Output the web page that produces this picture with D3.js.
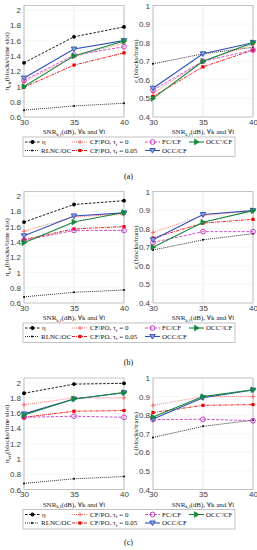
<!DOCTYPE html>
<html>
<head>
<meta charset="utf-8">
<style>
body { margin: 0; background: #fff; }
.tick text { font-family: "Liberation Sans", Arial, sans-serif; font-size: 8px; fill: #404040; }
.ttl { font-family: "Liberation Serif", "DejaVu Serif", serif; font-size: 7px; fill: #222; }
.leg { font-family: "Liberation Serif", "DejaVu Serif", serif; font-size: 7px; fill: #111; }
</style>
</head>
<body>
<script src="https://cdn.jsdelivr.net/npm/d3@7"></script>
<script>
// x values
var snr = [30, 35, 40];

// series order: eta, RLNC/OC, CF/PO tf=0, CF/PO tf=0.05, FC/CF, OCC/CF, OCC'/CF
var effA = [[1.31, 1.65, 1.78], [0.69, 0.745, 0.78], [1.06, 1.39, 1.57], [0.99, 1.28, 1.44], [1.08, 1.41, 1.52], [1.11, 1.49, 1.60], [1.00, 1.40, 1.595]];
var effB = [[1.66, 1.89, 1.94], [0.68, 0.74, 0.77], [1.54, 1.73, 1.76], [1.43, 1.57, 1.60], [1.42, 1.55, 1.55], [1.48, 1.74, 1.78], [1.39, 1.66, 1.785]];
var effC = [[1.86, 1.98, 1.99], [0.68, 0.74, 0.77], [1.71, 1.80, 1.80], [1.545, 1.625, 1.634], [1.545, 1.56, 1.545], [1.59, 1.786, 1.866], [1.576, 1.786, 1.87]];

var epsA = [null, [0.686, 0.74, 0.775], [0.53, 0.70, 0.79], [0.51, 0.67, 0.76], [0.545, 0.70, 0.76], [0.555, 0.74, 0.80], [0.50, 0.70, 0.80]];
var epsB = [null, [0.685, 0.74, 0.773], [0.78, 0.87, 0.897], [0.75, 0.83, 0.85], [0.726, 0.784, 0.784], [0.74, 0.876, 0.897], [0.70, 0.835, 0.897]];
var epsC = [null, [0.68, 0.74, 0.773], [0.853, 0.90, 0.90], [0.814, 0.853, 0.857], [0.776, 0.778, 0.77], [0.78, 0.894, 0.935], [0.79, 0.90, 0.937]];

var effTicks = [0.6, 0.8, 1, 1.2, 1.4, 1.6, 1.8, 2];
var epsTicks = [0.4, 0.5, 0.6, 0.7, 0.8, 0.9, 1];
var captions = ["(a)", "(b)", "(c)"];

var styles = [
  {color: "#000", dash: "2.5,1.5", marker: "dot", w: 0.9},
  {color: "#000", dash: "1,1", marker: "tiny", w: 0.8},
  {color: "#ff5a5a", dash: "1,1", marker: "plus", w: 0.8},
  {color: "#ee0000", dash: "3,1,1,1", marker: "square", w: 0.9},
  {color: "#c73cc7", dash: "3,1.5", marker: "ocircle", w: 0.9},
  {color: "#2f4fb5", dash: null, marker: "dtri", w: 1.1},
  {color: "#15883a", dash: null, marker: "rtri", w: 1.1}
];

var width = 257, height = 550;
var svg = d3.select("body").append("svg").attr("width", width).attr("height", height);

var rowY = [0, 186, 372.5];
var capY = [179, 179, 172];
var plotTop = 5.5, plotH = 111.5;
var panels = [
  {x0: 24, x1: 124, ticks: effTicks, dom: [0.6, 2.06], data: [effA, effB, effC], ytitle: "eff"},
  {x0: 153, x1: 253, ticks: epsTicks, dom: [0.4, 1], data: [epsA, epsB, epsC], ytitle: "eps"}
];

function drawMarker(g, type, x, y, c) {
  if (type == "dot") {
    g.append("circle").attr("cx", x).attr("cy", y).attr("r", 1.9).attr("fill", c);
  } else if (type == "tiny") {
    g.append("circle").attr("cx", x).attr("cy", y).attr("r", 1).attr("fill", c);
  } else if (type == "plus") {
    g.append("path").attr("d", "M" + (x - 2.2) + "," + y + "h4.4M" + x + "," + (y - 2.2) + "v4.4")
      .attr("stroke", c).attr("stroke-width", 0.9);
  } else if (type == "square") {
    g.append("rect").attr("x", x - 1.6).attr("y", y - 1.6).attr("width", 3.2).attr("height", 3.2).attr("fill", c);
  } else if (type == "ocircle") {
    g.append("circle").attr("cx", x).attr("cy", y).attr("r", 2.4).attr("fill", "none").attr("stroke", c).attr("stroke-width", 1);
  } else if (type == "dtri") {
    g.append("path").attr("d", "M" + (x - 2.8) + "," + (y - 2) + "L" + (x + 2.8) + "," + (y - 2) + "L" + x + "," + (y + 2.6) + "Z")
      .attr("fill", "#8fa2dc").attr("stroke", c).attr("stroke-width", 0.9);
  } else if (type == "rtri") {
    g.append("path").attr("d", "M" + (x - 2) + "," + (y - 2.8) + "L" + (x + 2.6) + "," + y + "L" + (x - 2) + "," + (y + 2.8) + "Z")
      .attr("fill", c).attr("stroke", c).attr("stroke-width", 0.8);
  }
}

rowY.forEach(function(ry, r) {
  var row = svg.append("g").attr("transform", "translate(0," + ry + ")");

  panels.forEach(function(p) {
    var x = d3.scaleLinear().domain([30, 40]).range([p.x0, p.x1]);
    var y = d3.scaleLinear().domain(p.dom).range([plotTop + plotH, plotTop]);
    var g = row.append("g");

    // grid
    g.selectAll(".gx").data(snr).enter().append("line")
      .attr("x1", function(d) { return x(d); }).attr("x2", function(d) { return x(d); })
      .attr("y1", plotTop).attr("y2", plotTop + plotH)
      .attr("stroke", "#e3e3e3").attr("stroke-width", 0.7);
    g.selectAll(".gy").data(p.ticks).enter().append("line")
      .attr("x1", p.x0).attr("x2", p.x1)
      .attr("y1", function(d) { return y(d); }).attr("y2", function(d) { return y(d); })
      .attr("stroke", "#f0f0f0").attr("stroke-width", 0.6);

    // box
    g.append("rect").attr("x", p.x0).attr("y", plotTop).attr("width", p.x1 - p.x0).attr("height", plotH)
      .attr("fill", "none").attr("stroke", "#b0b0b0").attr("stroke-width", 0.7);

    // axes
    var ax = g.append("g").attr("transform", "translate(0," + (plotTop + plotH) + ")")
      .call(d3.axisBottom(x).tickValues(snr).tickSize(0).tickPadding(2));
    ax.select(".domain").remove();
    var ay = g.append("g").attr("transform", "translate(" + p.x0 + ",0)")
      .call(d3.axisLeft(y).tickValues(p.ticks).tickSize(0).tickPadding(3).tickFormat(d3.format("~g")));
    ay.select(".domain").remove();

    // x title
    var xt = g.append("text").attr("class", "ttl").attr("x", (p.x0 + p.x1) / 2).attr("y", plotTop + plotH + 17)
      .attr("text-anchor", "middle");
    xt.append("tspan").text("SNR");
    xt.append("tspan").attr("font-size", "5px").attr("dy", 1.5).text("k,l");
    xt.append("tspan").attr("dy", -1.5).text("(dB), \u2200k and \u2200l");

    // y title
    var yt = g.append("text").attr("class", "ttl")
      .attr("transform", "translate(" + (p.x0 - 15) + "," + (plotTop + plotH / 2) + ") rotate(-90)")
      .attr("text-anchor", "middle");
    if (p.ytitle == "eff") {
      yt.append("tspan").text("\u03b7");
      yt.append("tspan").attr("font-size", "5px").attr("dy", 1.5).text("eff");
      yt.append("tspan").attr("dy", -1.5).text("(blocks/time slot)");
    } else {
      yt.append("tspan").text("\u03b5");
      yt.append("tspan").attr("font-size", "5px").attr("dy", 1.5).text("c");
      yt.append("tspan").attr("dy", -1.5).text("(blocks/trans)");
    }

    // series
    var line = d3.line().x(function(d, i) { return x(snr[i]); }).y(function(d) { return y(d); });
    p.data[r].forEach(function(vals, s) {
      if (!vals) return;
      var st = styles[s];
      g.append("path").datum(vals).attr("d", line).attr("fill", "none")
        .attr("stroke", st.color).attr("stroke-width", st.w)
        .attr("stroke-dasharray", st.dash);
      vals.forEach(function(v, i) { drawMarker(g, st.marker, x(snr[i]), y(v), st.color); });
    });
  });

  // legend
  var lg = row.append("g");
  lg.append("rect").attr("x", 23).attr("y", 137).attr("width", 212).attr("height", 19.5)
    .attr("fill", "#fff").attr("stroke", "#9a9a9a").attr("stroke-width", 0.6);
  var items = [
    {s: 0, x: 25, y: 142, len: 15, label: [["\u03b7", 0]]},
    {s: 2, x: 72, y: 142, len: 16, label: [["CF/PO, \u03c4", 0], ["f", 1], [" = 0", -1]]},
    {s: 4, x: 145, y: 142, len: 15, label: [["FC/CF", 0]]},
    {s: 6, x: 189, y: 142, len: 15, label: [["OCC\u2032/CF", 0]]},
    {s: 1, x: 25, y: 150.5, len: 14, label: [["RLNC/OC", 0]]},
    {s: 3, x: 72, y: 150.5, len: 16, label: [["CF/PO, \u03c4", 0], ["f", 1], [" = 0.05", -1]]},
    {s: 5, x: 145, y: 150.5, len: 15, label: [["OCC/CF", 0]]}
  ];
  items.forEach(function(it) {
    var st = styles[it.s];
    lg.append("line").attr("x1", it.x).attr("x2", it.x + it.len).attr("y1", it.y).attr("y2", it.y)
      .attr("stroke", st.color).attr("stroke-width", st.w).attr("stroke-dasharray", st.dash);
    drawMarker(lg, st.marker, it.x + it.len / 2, it.y, st.color);
    var t = lg.append("text").attr("class", "leg").attr("x", it.x + it.len + 2).attr("y", it.y + 2.4);
    it.label.forEach(function(pt) {
      var sp = t.append("tspan").text(pt[0]);
      if (pt[1] == 1) sp.attr("font-size", "5px").attr("dy", 1.5);
      if (pt[1] == -1) sp.attr("dy", -1.5);
    });
  });

  row.append("text").attr("class", "leg").attr("x", 128.5).attr("y", capY[r])
    .attr("text-anchor", "middle").style("font-size", "8px").text(captions[r]);
});
</script>
</body>
</html>
